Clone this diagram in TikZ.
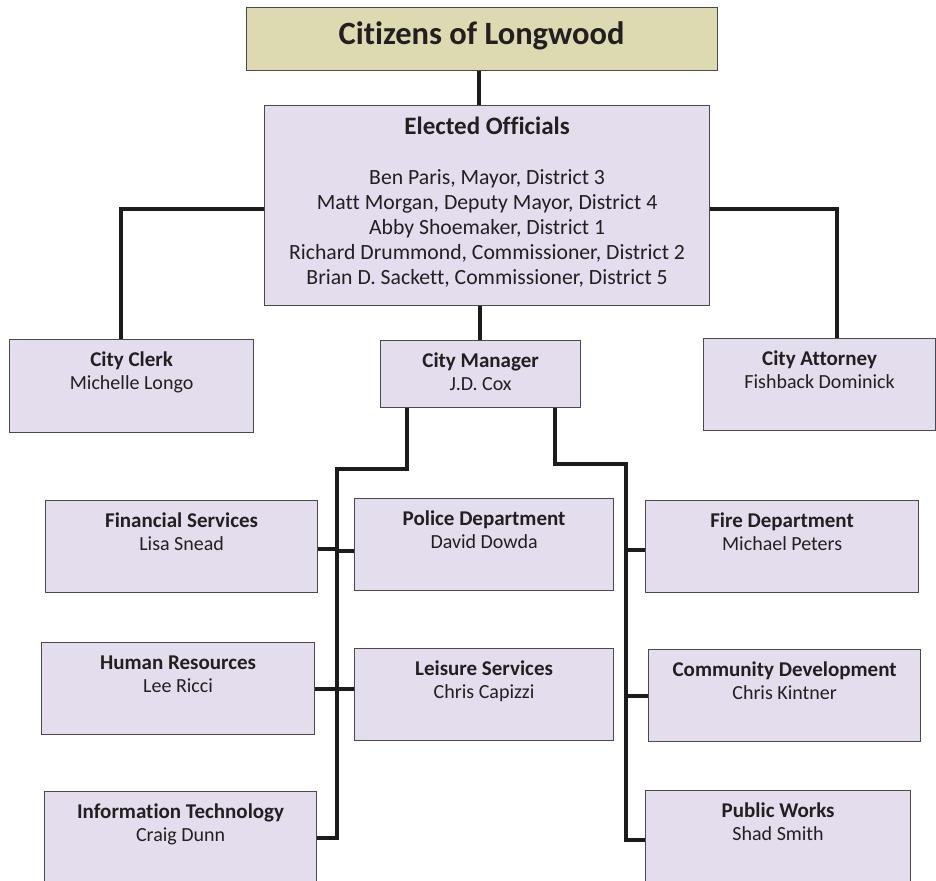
\documentclass[tikz,border=0pt]{standalone}
\usepackage{fontspec}
\setmainfont{Carlito}[Ligatures=CommonOff]
\definecolor{lav}{HTML}{E4DDEE}
\definecolor{tan}{HTML}{DDD9B1}
\definecolor{boxline}{HTML}{4A4A4A}
\definecolor{connc}{HTML}{1E1B1C}
\definecolor{txt}{HTML}{231F20}
\newcommand\orgbox[7]{%
  \node[box, minimum width=#4pt, minimum height=#5pt] (#1) at (#2,#3) {};
  \node[hd] (#1h) at ([yshift=-27pt]#1.north) {#6};
  \node[nm] (#1n) at ([yshift=-50pt]#1.north) {#7};}
\begin{document}
\begin{tikzpicture}[x=1pt,y=-1pt,
  box/.style={draw=boxline, line width=1.2pt, fill=lav, anchor=north west, inner sep=0pt},
  conn/.style={draw=connc, line width=4pt},
  hd/.style={anchor=base, inner sep=0pt, text=txt, font=\fontsize{21}{25}\selectfont\bfseries},
  nm/.style={anchor=base, inner sep=0pt, text=txt, font=\fontsize{20}{24}\selectfont},
  big/.style={anchor=base, inner sep=0pt, text=txt, font=\fontsize{21.7}{26}\selectfont}]
\useasboundingbox (0,0) rectangle (936,880);
% top boxes
\node[box, fill=tan, minimum width=471pt, minimum height=63pt] (citizens) at (246,7) {};
\node[anchor=base, inner sep=0pt, text=txt, font=\fontsize{32.5}{38}\selectfont\bfseries] (citizensT) at (481.5,45) {Citizens of Longwood};
\node[box, minimum width=445pt, minimum height=200pt] (elected) at (264,105) {};
\node[big, font=\fontsize{25}{30}\selectfont\bfseries] (electedT) at ([yshift=-30pt]elected.north) {Elected Officials};
\node[big] (e1) at ([yshift=-79pt]elected.north) {Ben Paris, Mayor, District 3};
\node[big] (e2) at ([yshift=-104pt]elected.north) {Matt Morgan, Deputy Mayor, District 4};
\node[big] (e3) at ([yshift=-129pt]elected.north) {Abby Shoemaker, District 1};
\node[big] (e4) at ([yshift=-154pt]elected.north) {Richard Drummond, Commissioner, District 2};
\node[big] (e5) at ([yshift=-179pt]elected.north) {Brian D. Sackett, Commissioner, District 5};
% second row
\orgbox{clerk}{9}{339}{244}{93}{City Clerk}{Michelle Longo}
\orgbox{manager}{380}{340}{200}{67}{City Manager}{J.D. Cox}
\orgbox{attorney}{703}{338}{232}{92}{City Attorney}{Fishback Dominick}
% departments
\orgbox{finance}{45}{500}{272}{92}{Financial Services}{Lisa Snead}
\orgbox{police}{354}{498}{259}{92}{Police Department}{David Dowda}
\orgbox{fire}{645}{500}{273}{92}{Fire Department}{Michael Peters}
\orgbox{hr}{41}{642}{273}{92}{Human Resources}{Lee Ricci}
\orgbox{leisure}{354}{648}{259}{92}{Leisure Services}{Chris Capizzi}
\orgbox{commdev}{648}{649}{272}{92}{Community Development}{Chris Kintner}
\orgbox{it}{44}{791}{272}{100}{Information Technology}{Craig Dunn}
\orgbox{pw}{645}{790}{265}{100}{Public Works}{Shad Smith}
% connectors
\coordinate (lspine) at (337,469);
\coordinate (rspine) at (626,464);
\draw[conn] (citizens.south -| 479,0) -- (elected.north -| 479,0);
\draw[conn] (elected.west |- 0,209) -| (clerk.north -| 121,0);
\draw[conn] (elected.east |- 0,209) -| (attorney.north -| 837,0);
\draw[conn] (elected.south -| 480,0) -- (manager.north -| 480,0);
\draw[conn] (manager.south -| 407,0) |- (lspine) |- (it.east |- 0,838);
\draw[conn] (manager.south -| 555,0) |- (rspine) |- (pw.west |- 0,840);
\draw[conn] (finance.east |- 0,549) -- (lspine |- 0,549);
\draw[conn] (lspine |- 0,551) -- (police.west |- 0,551);
\draw[conn] (fire.west |- 0,550) -- (rspine |- 0,550);
\draw[conn] (hr.east |- 0,689) -- (leisure.west |- 0,689);
\draw[conn] (commdev.west |- 0,696) -- (rspine |- 0,696);
\end{tikzpicture}
\end{document}
